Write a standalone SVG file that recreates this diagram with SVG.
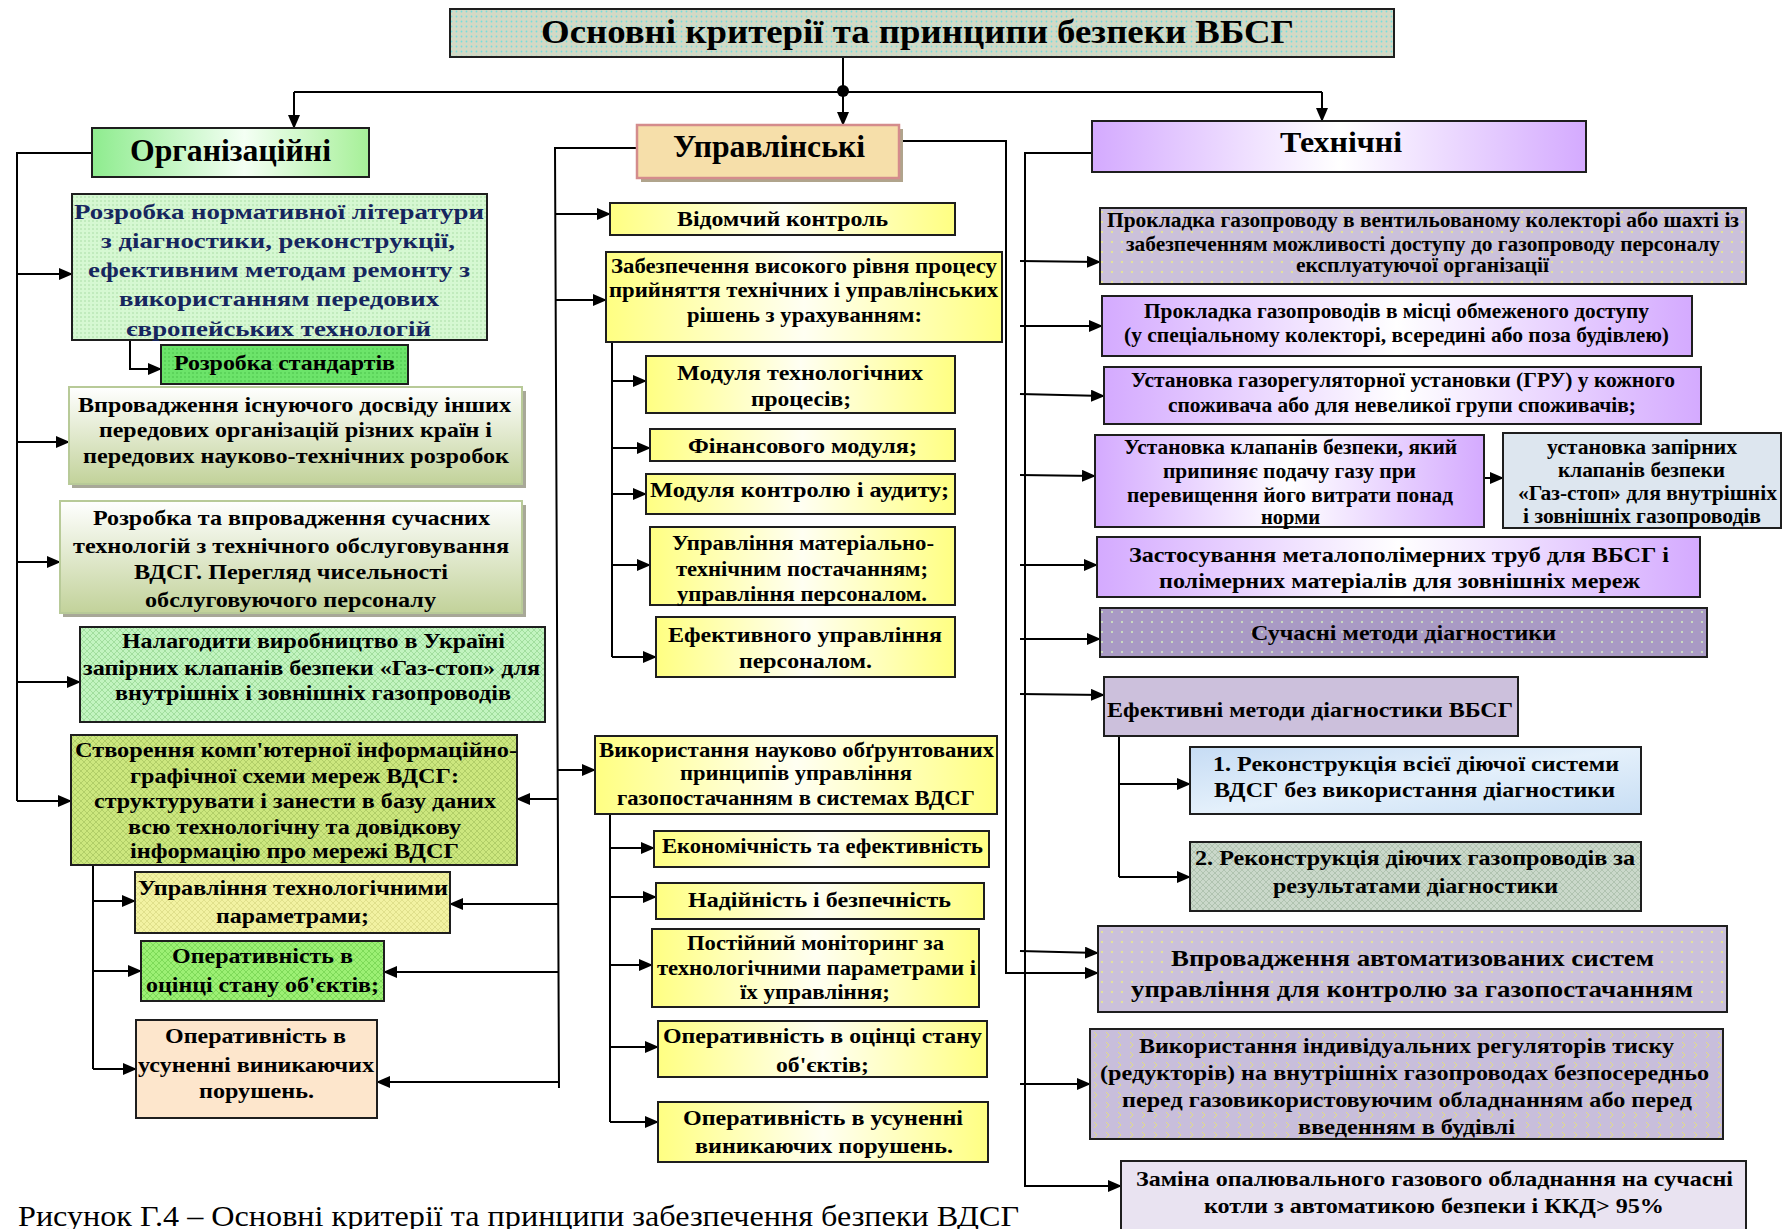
<svg xmlns="http://www.w3.org/2000/svg" width="1782" height="1229" viewBox="0 0 1782 1229">
<style>
.b{stroke:#1e1e1e;stroke-width:2}
.t{font-family:"Liberation Serif",serif;font-weight:bold;fill:#000}
.nv{fill:#16265e}
.c{fill:none;stroke:#000;stroke-width:2}
.a{fill:none;stroke:#000;stroke-width:2;marker-end:url(#ah)}
</style>
<defs>
<marker id="ah" markerWidth="14" markerHeight="12" refX="13" refY="6" orient="auto" markerUnits="userSpaceOnUse"><path d="M0,0 L14,6 L0,12 z" fill="#000"/></marker>
<pattern id="pTitle" width="5" height="5" patternUnits="userSpaceOnUse"><rect width="5" height="5" fill="#d3d9c5"/><circle cx="1.5" cy="1.5" r="0.9" fill="#74dede"/></pattern>
<pattern id="pDotG" width="4" height="4" patternUnits="userSpaceOnUse"><rect width="4" height="4" fill="#d6f8d2"/><circle cx="1" cy="1" r="0.8" fill="#a6dca2"/></pattern>
<pattern id="pDotStd" width="4" height="4" patternUnits="userSpaceOnUse"><rect width="4" height="4" fill="#6ce46a"/><circle cx="1" cy="1" r="0.8" fill="#48c048"/></pattern>
<pattern id="pHLt" width="6" height="6" patternUnits="userSpaceOnUse"><rect width="6" height="6" fill="#c2f4c0"/><path d="M0,0L6,6M6,0L0,6" stroke="#98d896" stroke-width="0.8"/></pattern>
<pattern id="pHYG" width="6" height="6" patternUnits="userSpaceOnUse"><rect width="6" height="6" fill="#cce77e"/><path d="M0,0L6,6M6,0L0,6" stroke="#aac862" stroke-width="0.8"/></pattern>
<pattern id="pHY" width="6" height="6" patternUnits="userSpaceOnUse"><rect width="6" height="6" fill="#f2f2a2"/><path d="M0,0L6,6M6,0L0,6" stroke="#dcdc86" stroke-width="0.8"/></pattern>
<pattern id="pHG" width="6" height="6" patternUnits="userSpaceOnUse"><rect width="6" height="6" fill="#9cf074"/><path d="M0,0L6,6M6,0L0,6" stroke="#76d452" stroke-width="0.8"/></pattern>
<pattern id="pHGrey" width="6" height="6" patternUnits="userSpaceOnUse"><rect width="6" height="6" fill="#cad8ca"/><path d="M0,0L6,6M6,0L0,6" stroke="#aabeaa" stroke-width="0.8"/></pattern>
<pattern id="pDotP" width="10" height="10" patternUnits="userSpaceOnUse"><rect width="10" height="10" fill="#cbc1da"/><circle cx="2" cy="2" r="1" fill="#eeee88"/></pattern>
<pattern id="pDotPD" width="10" height="10" patternUnits="userSpaceOnUse"><rect width="10" height="10" fill="#a99ac4"/><circle cx="2" cy="2" r="1" fill="#d6eec0"/></pattern>
<pattern id="pChev" width="12" height="10" patternUnits="userSpaceOnUse"><rect width="12" height="10" fill="#c8bedb"/><path d="M2,2L5,5L2,8" fill="none" stroke="#e6e07a" stroke-width="0.9"/></pattern>
<linearGradient id="gOrg" x1="0" y1="0" x2="1" y2="0"><stop offset="0" stop-color="#8eec8e"/><stop offset="0.55" stop-color="#f4fff4"/><stop offset="1" stop-color="#a6f098"/></linearGradient>
<linearGradient id="gOlive" x1="0" y1="0" x2="0" y2="1"><stop offset="0" stop-color="#ffffff"/><stop offset="1" stop-color="#c2d29a"/></linearGradient>
<linearGradient id="gYel" x1="0" y1="0" x2="1" y2="0"><stop offset="0" stop-color="#ffff82"/><stop offset="0.5" stop-color="#fffff2"/><stop offset="1" stop-color="#ffff82"/></linearGradient>
<linearGradient id="gPur" x1="0" y1="0" x2="1" y2="0"><stop offset="0" stop-color="#d4aaff"/><stop offset="0.5" stop-color="#ffffff"/><stop offset="1" stop-color="#d4aaff"/></linearGradient>
<linearGradient id="gBlue" x1="0" y1="0" x2="1" y2="1"><stop offset="0" stop-color="#c6dcf4"/><stop offset="0.5" stop-color="#e4f0fb"/><stop offset="1" stop-color="#c8def4"/></linearGradient>
</defs>
<rect width="1782" height="1229" fill="#fff"/>

<g id="connectors">
<line class="c" x1="843" y1="57" x2="843" y2="92"/>
<line class="c" x1="294" y1="92" x2="1322" y2="92"/>
<circle cx="843" cy="91" r="6" fill="#000"/>
<line class="a" x1="294" y1="92" x2="294" y2="128"/>
<line class="a" x1="843" y1="92" x2="843" y2="125"/>
<line class="a" x1="1322" y1="92" x2="1322" y2="121"/>
<polyline class="c" points="92,153 17,153 17,801"/>
<line class="a" x1="17" y1="274" x2="72" y2="274"/>
<line class="a" x1="17" y1="442" x2="69" y2="442"/>
<line class="a" x1="17" y1="562" x2="60" y2="562"/>
<line class="a" x1="17" y1="682" x2="80" y2="682"/>
<line class="a" x1="17" y1="801" x2="71" y2="801"/>
<polyline class="a" points="130,340 130,369 161,369"/>
<line class="c" x1="93" y1="865" x2="93" y2="1069"/>
<line class="a" x1="93" y1="901" x2="135" y2="901"/>
<line class="a" x1="93" y1="971" x2="141" y2="971"/>
<line class="a" x1="93" y1="1069" x2="136" y2="1069"/>
<polyline class="c" points="637,148 555,148 559,1088"/>
<line class="a" x1="555" y1="214" x2="610" y2="214"/>
<line class="a" x1="555" y1="300" x2="606" y2="300"/>
<line class="a" x1="558" y1="770" x2="595" y2="770"/>
<line class="a" x1="558" y1="799" x2="517" y2="799"/>
<line class="a" x1="558" y1="904" x2="450" y2="904"/>
<line class="a" x1="559" y1="972" x2="384" y2="972"/>
<line class="a" x1="559" y1="1082" x2="377" y2="1082"/>
<line class="c" x1="612" y1="342" x2="612" y2="657"/>
<line class="a" x1="612" y1="381" x2="646" y2="381"/>
<line class="a" x1="612" y1="448" x2="650" y2="448"/>
<line class="a" x1="612" y1="494" x2="646" y2="494"/>
<line class="a" x1="612" y1="565" x2="650" y2="565"/>
<line class="a" x1="612" y1="657" x2="656" y2="657"/>
<line class="c" x1="610" y1="814" x2="610" y2="1122"/>
<line class="a" x1="610" y1="848" x2="654" y2="848"/>
<line class="a" x1="610" y1="897" x2="656" y2="897"/>
<line class="a" x1="610" y1="965" x2="652" y2="965"/>
<line class="a" x1="610" y1="1047" x2="658" y2="1047"/>
<line class="a" x1="610" y1="1122" x2="658" y2="1122"/>
<polyline class="a" points="892,141 1006,141 1006,973 1098,973"/>
<polyline class="a" points="1092,153 1025,153 1025,1186 1121,1186"/>
<line class="a" x1="1020" y1="261" x2="1100" y2="262"/>
<line class="a" x1="1020" y1="326" x2="1102" y2="326"/>
<line class="a" x1="1020" y1="394" x2="1104" y2="396"/>
<line class="a" x1="1020" y1="475" x2="1095" y2="476"/>
<line class="a" x1="1020" y1="565" x2="1097" y2="565"/>
<line class="a" x1="1020" y1="639" x2="1100" y2="639"/>
<line class="a" x1="1020" y1="694" x2="1104" y2="695"/>
<line class="a" x1="1020" y1="951" x2="1098" y2="953"/>
<line class="a" x1="1020" y1="1084" x2="1090" y2="1084"/>
<line class="a" x1="1484" y1="478" x2="1503" y2="478"/>
<line class="c" x1="1119" y1="726" x2="1119" y2="877"/>
<line class="a" x1="1119" y1="784" x2="1190" y2="784"/>
<line class="a" x1="1119" y1="877" x2="1190" y2="877"/>
</g>

<g id="title">
<rect class="b" x="450" y="9" width="944" height="48" fill="url(#pTitle)"/>
<text class="t" x="541" y="43" font-size="34" textLength="753" lengthAdjust="spacingAndGlyphs">Основні критерії та принципи безпеки ВБСГ</text>
</g>

<g id="org">
<rect class="b" x="92" y="128" width="277" height="49" fill="url(#gOrg)"/>
<text class="t" x="130" y="161" font-size="31" textLength="201" lengthAdjust="spacingAndGlyphs">Організаційні</text>
</g>
<g id="org1">
<rect class="b" x="72" y="194" width="415" height="146" fill="url(#pDotG)"/>
<g class="t nv" font-size="22">
<text x="74" y="219" textLength="410" lengthAdjust="spacingAndGlyphs">Розробка нормативної літератури</text>
<text x="101" y="248" textLength="354" lengthAdjust="spacingAndGlyphs">з діагностики, реконструкції,</text>
<text x="88" y="277" textLength="382" lengthAdjust="spacingAndGlyphs">ефективним методам ремонту з</text>
<text x="119" y="306" textLength="320" lengthAdjust="spacingAndGlyphs">використанням передових</text>
<text x="126" y="336" textLength="305" lengthAdjust="spacingAndGlyphs">європейських технологій</text>
</g>
</g>
<g id="org1a">
<rect class="b" x="161" y="345" width="247" height="39" fill="url(#pDotStd)"/>
<text class="t" x="174" y="370" font-size="21" textLength="221" lengthAdjust="spacingAndGlyphs">Розробка стандартів</text>
</g>
<g id="org2">
<rect x="72" y="391" width="454" height="97" fill="#a8a898"/>
<rect x="69" y="387" width="453" height="97" fill="url(#gOlive)" stroke="#b8ca98" stroke-width="2"/>
<g class="t" font-size="21">
<text x="78" y="412" textLength="433" lengthAdjust="spacingAndGlyphs">Впровадження існуючого досвіду інших</text>
<text x="99" y="437" textLength="393" lengthAdjust="spacingAndGlyphs">передових організацій різних країн і</text>
<text x="83" y="463" textLength="426" lengthAdjust="spacingAndGlyphs">передових науково-технічних розробок</text>
</g>
</g>
<g id="org3">
<rect x="63" y="505" width="463" height="112" fill="#a8a898"/>
<rect x="60" y="501" width="462" height="112" fill="url(#gOlive)" stroke="#b8ca98" stroke-width="2"/>
<g class="t" font-size="21">
<text x="93" y="525" textLength="397" lengthAdjust="spacingAndGlyphs">Розробка та впровадження сучасних</text>
<text x="73" y="553" textLength="436" lengthAdjust="spacingAndGlyphs">технологій з технічного обслуговування</text>
<text x="134" y="579" textLength="314" lengthAdjust="spacingAndGlyphs">ВДСГ. Перегляд чисельності</text>
<text x="145" y="607" textLength="291" lengthAdjust="spacingAndGlyphs">обслуговуючого персоналу</text>
</g>
</g>
<g id="org4">
<rect class="b" x="80" y="627" width="465" height="95" fill="url(#pHLt)"/>
<g class="t" font-size="21">
<text x="122" y="648" textLength="383" lengthAdjust="spacingAndGlyphs">Налагодити виробництво в Україні</text>
<text x="83" y="675" textLength="457" lengthAdjust="spacingAndGlyphs">запірних клапанів безпеки «Газ-стоп» для</text>
<text x="115" y="700" textLength="396" lengthAdjust="spacingAndGlyphs">внутрішніх і зовнішніх газопроводів</text>
</g>
</g>
<g id="org5">
<rect class="b" x="71" y="735" width="446" height="130" fill="url(#pHYG)"/>
<g class="t" font-size="21">
<text x="75" y="757" textLength="442" lengthAdjust="spacingAndGlyphs">Створення комп'ютерної інформаційно-</text>
<text x="130" y="783" textLength="329" lengthAdjust="spacingAndGlyphs">графічної схеми мереж ВДСГ:</text>
<text x="94" y="808" textLength="402" lengthAdjust="spacingAndGlyphs">структурувати і занести в базу даних</text>
<text x="128" y="834" textLength="333" lengthAdjust="spacingAndGlyphs">всю технологічну та довідкову</text>
<text x="130" y="858" textLength="329" lengthAdjust="spacingAndGlyphs">інформацію про мережі ВДСГ</text>
</g>
</g>
<g id="org5a">
<rect class="b" x="135" y="872" width="315" height="61" fill="url(#pHY)"/>
<g class="t" font-size="21">
<text x="138" y="895" textLength="310" lengthAdjust="spacingAndGlyphs">Управління технологічними</text>
<text x="216" y="923" textLength="153" lengthAdjust="spacingAndGlyphs">параметрами;</text>
</g>
</g>
<g id="org5b">
<rect class="b" x="141" y="941" width="243" height="60" fill="url(#pHG)"/>
<g class="t" font-size="21">
<text x="172" y="963" textLength="181" lengthAdjust="spacingAndGlyphs">Оперативність в</text>
<text x="146" y="992" textLength="233" lengthAdjust="spacingAndGlyphs">оцінці стану об'єктів;</text>
</g>
</g>
<g id="org5c">
<rect class="b" x="136" y="1020" width="241" height="98" fill="#fde6cc"/>
<g class="t" font-size="21">
<text x="165" y="1043" textLength="181" lengthAdjust="spacingAndGlyphs">Оперативність в</text>
<text x="138" y="1072" textLength="236" lengthAdjust="spacingAndGlyphs">усуненні виникаючих</text>
<text x="199" y="1098" textLength="115" lengthAdjust="spacingAndGlyphs">порушень.</text>
</g>
</g>

<g id="mgmt">
<rect x="641" y="129" width="262" height="53" fill="#b0a48c"/>
<rect x="637" y="125" width="262" height="53" fill="#f6dfaa" stroke="#d48c8c" stroke-width="2.5"/>
<text class="t" x="673" y="157" font-size="32" textLength="192" lengthAdjust="spacingAndGlyphs">Управлінські</text>
</g>
<g id="m1">
<rect class="b" x="610" y="203" width="345" height="32" fill="url(#gYel)"/>
<text class="t" x="677" y="226" font-size="21" textLength="211" lengthAdjust="spacingAndGlyphs">Відомчий контроль</text>
</g>
<g id="m2">
<rect class="b" x="606" y="252" width="396" height="90" fill="url(#gYel)"/>
<g class="t" font-size="21">
<text x="611" y="273" textLength="386" lengthAdjust="spacingAndGlyphs">Забезпечення високого рівня процесу</text>
<text x="609" y="297" textLength="389" lengthAdjust="spacingAndGlyphs">прийняття технічних і управлінських</text>
<text x="687" y="322" textLength="235" lengthAdjust="spacingAndGlyphs">рішень з урахуванням:</text>
</g>
</g>
<g id="m2a">
<rect class="b" x="646" y="356" width="309" height="57" fill="url(#gYel)"/>
<g class="t" font-size="21">
<text x="677" y="380" textLength="246" lengthAdjust="spacingAndGlyphs">Модуля технологічних</text>
<text x="751" y="406" textLength="100" lengthAdjust="spacingAndGlyphs">процесів;</text>
</g>
</g>
<g id="m2b">
<rect class="b" x="650" y="429" width="305" height="32" fill="url(#gYel)"/>
<text class="t" x="688" y="453" font-size="21" textLength="229" lengthAdjust="spacingAndGlyphs">Фінансового модуля;</text>
</g>
<g id="m2c">
<rect class="b" x="646" y="474" width="309" height="40" fill="url(#gYel)"/>
<text class="t" x="650" y="497" font-size="21" textLength="299" lengthAdjust="spacingAndGlyphs">Модуля контролю і аудиту;</text>
</g>
<g id="m2d">
<rect class="b" x="650" y="527" width="305" height="78" fill="url(#gYel)"/>
<g class="t" font-size="21">
<text x="672" y="550" textLength="262" lengthAdjust="spacingAndGlyphs">Управління матеріально-</text>
<text x="676" y="576" textLength="252" lengthAdjust="spacingAndGlyphs">технічним постачанням;</text>
<text x="677" y="601" textLength="250" lengthAdjust="spacingAndGlyphs">управління персоналом.</text>
</g>
</g>
<g id="m2e">
<rect class="b" x="656" y="617" width="299" height="60" fill="url(#gYel)"/>
<g class="t" font-size="21">
<text x="668" y="642" textLength="274" lengthAdjust="spacingAndGlyphs">Ефективного управління</text>
<text x="739" y="668" textLength="133" lengthAdjust="spacingAndGlyphs">персоналом.</text>
</g>
</g>
<g id="m3">
<rect class="b" x="595" y="736" width="402" height="78" fill="url(#gYel)"/>
<g class="t" font-size="21">
<text x="599" y="757" textLength="395" lengthAdjust="spacingAndGlyphs">Використання науково обґрунтованих</text>
<text x="680" y="780" textLength="232" lengthAdjust="spacingAndGlyphs">принципів управління</text>
<text x="617" y="805" textLength="358" lengthAdjust="spacingAndGlyphs">газопостачанням в системах ВДСГ</text>
</g>
</g>
<g id="m3a">
<rect class="b" x="654" y="831" width="335" height="36" fill="url(#gYel)"/>
<text class="t" x="662" y="853" font-size="21" textLength="321" lengthAdjust="spacingAndGlyphs">Економічність та ефективність</text>
</g>
<g id="m3b">
<rect class="b" x="656" y="883" width="328" height="36" fill="url(#gYel)"/>
<text class="t" x="688" y="907" font-size="21" textLength="263" lengthAdjust="spacingAndGlyphs">Надійність і безпечність</text>
</g>
<g id="m3c">
<rect class="b" x="652" y="929" width="327" height="78" fill="url(#gYel)"/>
<g class="t" font-size="21">
<text x="687" y="950" textLength="257" lengthAdjust="spacingAndGlyphs">Постійний моніторинг за</text>
<text x="657" y="975" textLength="319" lengthAdjust="spacingAndGlyphs">технологічними параметрами і</text>
<text x="740" y="999" textLength="150" lengthAdjust="spacingAndGlyphs">їх управління;</text>
</g>
</g>
<g id="m3d">
<rect class="b" x="658" y="1021" width="329" height="56" fill="url(#gYel)"/>
<g class="t" font-size="21">
<text x="663" y="1043" textLength="319" lengthAdjust="spacingAndGlyphs">Оперативність в оцінці стану</text>
<text x="776" y="1072" textLength="93" lengthAdjust="spacingAndGlyphs">об'єктів;</text>
</g>
</g>
<g id="m3e">
<rect class="b" x="658" y="1102" width="330" height="60" fill="url(#gYel)"/>
<g class="t" font-size="21">
<text x="683" y="1125" textLength="280" lengthAdjust="spacingAndGlyphs">Оперативність в усуненні</text>
<text x="695" y="1153" textLength="258" lengthAdjust="spacingAndGlyphs">виникаючих порушень.</text>
</g>
</g>

<g id="tech">
<rect class="b" x="1092" y="121" width="494" height="51" fill="url(#gPur)"/>
<text class="t" x="1280" y="152" font-size="30" textLength="122" lengthAdjust="spacingAndGlyphs">Технічні</text>
</g>
<g id="t1">
<rect class="b" x="1100" y="208" width="646" height="76" fill="url(#pDotP)"/>
<g class="t" font-size="20">
<text x="1107" y="227" textLength="632" lengthAdjust="spacingAndGlyphs">Прокладка газопроводу в вентильованому колекторі або шахті із</text>
<text x="1126" y="251" textLength="594" lengthAdjust="spacingAndGlyphs">забезпеченням можливості доступу до газопроводу персоналу</text>
<text x="1296" y="272" textLength="253" lengthAdjust="spacingAndGlyphs">експлуатуючої організації</text>
</g>
</g>
<g id="t2">
<rect class="b" x="1102" y="296" width="590" height="60" fill="url(#gPur)"/>
<g class="t" font-size="20">
<text x="1144" y="318" textLength="505" lengthAdjust="spacingAndGlyphs">Прокладка газопроводів в місці обмеженого доступу</text>
<text x="1124" y="342" textLength="545" lengthAdjust="spacingAndGlyphs">(у спеціальному колекторі, всередині або поза будівлею)</text>
</g>
</g>
<g id="t3">
<rect class="b" x="1104" y="367" width="597" height="57" fill="url(#gPur)"/>
<g class="t" font-size="20">
<text x="1131" y="387" textLength="544" lengthAdjust="spacingAndGlyphs">Установка газорегуляторної установки (ГРУ) у кожного</text>
<text x="1168" y="412" textLength="468" lengthAdjust="spacingAndGlyphs">споживача або для невеликої групи споживачів;</text>
</g>
</g>
<g id="t4">
<rect class="b" x="1095" y="435" width="389" height="92" fill="url(#gPur)"/>
<g class="t" font-size="20">
<text x="1124" y="454" textLength="333" lengthAdjust="spacingAndGlyphs">Установка клапанів безпеки, який</text>
<text x="1163" y="478" textLength="253" lengthAdjust="spacingAndGlyphs">припиняє подачу газу при</text>
<text x="1127" y="502" textLength="326" lengthAdjust="spacingAndGlyphs">перевищення його витрати понад</text>
<text x="1261" y="524" textLength="59" lengthAdjust="spacingAndGlyphs">норми</text>
</g>
</g>
<g id="t4b">
<rect class="b" x="1503" y="433" width="278" height="95" fill="#dde6ef"/>
<g class="t" font-size="20">
<text x="1547" y="454" textLength="190" lengthAdjust="spacingAndGlyphs">установка запірних</text>
<text x="1558" y="477" textLength="167" lengthAdjust="spacingAndGlyphs">клапанів безпеки</text>
<text x="1518" y="500" textLength="259" lengthAdjust="spacingAndGlyphs">«Газ-стоп» для внутрішніх</text>
<text x="1523" y="523" textLength="238" lengthAdjust="spacingAndGlyphs">і зовнішніх газопроводів</text>
</g>
</g>
<g id="t5">
<rect class="b" x="1097" y="537" width="603" height="60" fill="url(#gPur)"/>
<g class="t" font-size="22">
<text x="1129" y="562" textLength="540" lengthAdjust="spacingAndGlyphs">Застосування металополімерних труб для ВБСГ і</text>
<text x="1159" y="588" textLength="481" lengthAdjust="spacingAndGlyphs">полімерних матеріалів для зовнішніх мереж</text>
</g>
</g>
<g id="t6">
<rect class="b" x="1100" y="608" width="607" height="49" fill="url(#pDotPD)"/>
<text class="t" x="1251" y="640" font-size="22" textLength="305" lengthAdjust="spacingAndGlyphs">Сучасні методи діагностики</text>
</g>
<g id="t7">
<rect class="b" x="1104" y="677" width="414" height="59" fill="#ccc0dc"/>
<text class="t" x="1107" y="717" font-size="22" textLength="406" lengthAdjust="spacingAndGlyphs">Ефективні методи діагностики ВБСГ</text>
</g>
<g id="t8">
<rect class="b" x="1190" y="747" width="451" height="67" fill="url(#gBlue)"/>
<g class="t" font-size="22">
<text x="1213" y="771" textLength="406" lengthAdjust="spacingAndGlyphs">1. Реконструкція всієї діючої системи</text>
<text x="1214" y="797" textLength="401" lengthAdjust="spacingAndGlyphs">ВДСГ без використання діагностики</text>
</g>
</g>
<g id="t9">
<rect class="b" x="1190" y="842" width="451" height="69" fill="url(#pHGrey)"/>
<g class="t" font-size="22">
<text x="1195" y="865" textLength="440" lengthAdjust="spacingAndGlyphs">2. Реконструкція діючих газопроводів за</text>
<text x="1273" y="893" textLength="285" lengthAdjust="spacingAndGlyphs">результатами діагностики</text>
</g>
</g>
<g id="t10">
<rect class="b" x="1098" y="926" width="629" height="86" fill="url(#pDotP)"/>
<g class="t" font-size="24">
<text x="1171" y="966" textLength="483" lengthAdjust="spacingAndGlyphs">Впровадження автоматизованих систем</text>
<text x="1131" y="997" textLength="562" lengthAdjust="spacingAndGlyphs">управління для контролю за газопостачанням</text>
</g>
</g>
<g id="t11">
<rect class="b" x="1090" y="1029" width="633" height="110" fill="url(#pChev)"/>
<g class="t" font-size="21">
<text x="1139" y="1053" textLength="535" lengthAdjust="spacingAndGlyphs">Використання індивідуальних регуляторів тиску</text>
<text x="1100" y="1080" textLength="609" lengthAdjust="spacingAndGlyphs">(редукторів) на внутрішніх газопроводах безпосередньо</text>
<text x="1122" y="1107" textLength="570" lengthAdjust="spacingAndGlyphs">перед газовикористовуючим обладнанням або перед</text>
<text x="1298" y="1134" textLength="217" lengthAdjust="spacingAndGlyphs">введенням в будівлі</text>
</g>
</g>
<g id="t12">
<rect class="b" x="1121" y="1161" width="625" height="80" fill="#e9e3f1"/>
<g class="t" font-size="21">
<text x="1136" y="1186" textLength="597" lengthAdjust="spacingAndGlyphs">Заміна опалювального газового обладнання на сучасні</text>
<text x="1204" y="1213" textLength="460" lengthAdjust="spacingAndGlyphs">котли з автоматикою безпеки і ККД&gt; 95%</text>
</g>
</g>

<text x="18" y="1226" font-family="Liberation Serif, serif" font-size="29" fill="#000" textLength="1001" lengthAdjust="spacingAndGlyphs">Рисунок Г.4 – Основні критерії та принципи забезпечення безпеки ВДСГ</text>
</svg>
